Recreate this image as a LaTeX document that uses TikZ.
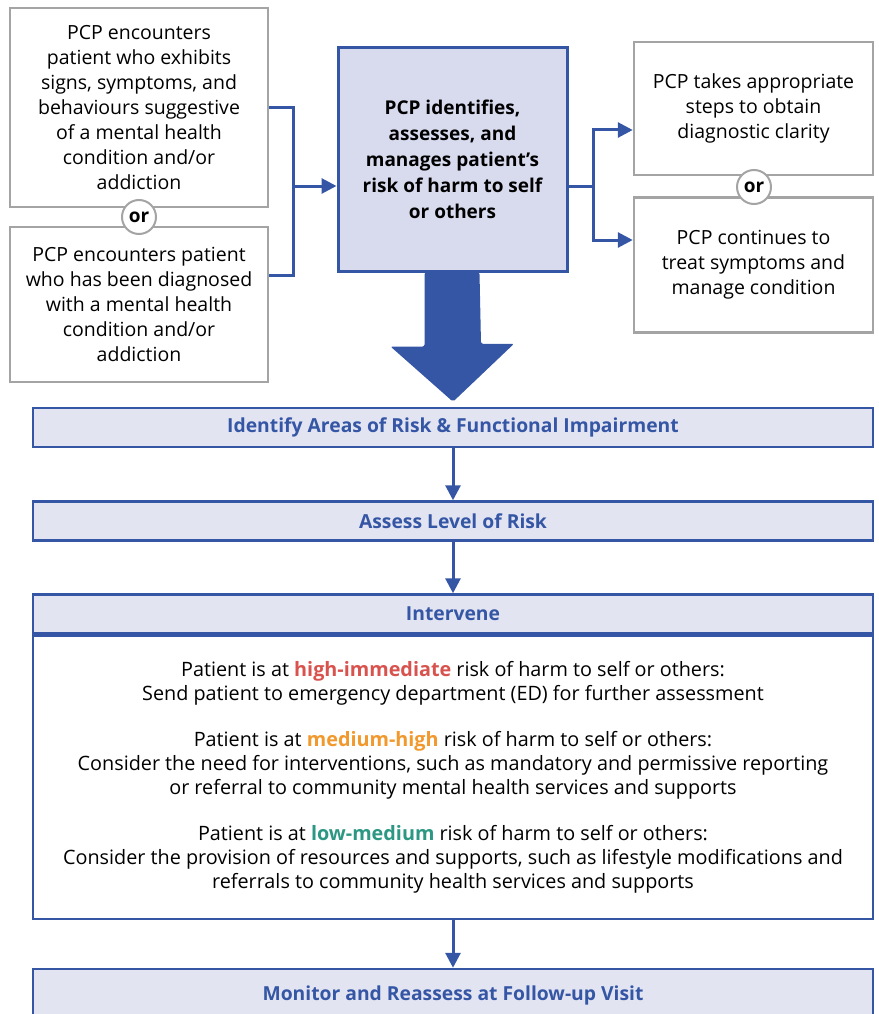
\documentclass[tikz,border=0pt]{standalone}
\usepackage{fontspec}
\setmainfont{Open Sans}
\usepackage{tikz}
\usetikzlibrary{arrows.meta,calc,positioning}
\definecolor{pcpblue}{HTML}{3456A5}
\definecolor{mainfill}{HTML}{D8DBEE}
\definecolor{barfill}{HTML}{E2E4F2}
\definecolor{boxgrey}{HTML}{A4A4A4}
\definecolor{riskred}{HTML}{D9534E}
\definecolor{riskorange}{HTML}{F2992E}
\definecolor{riskteal}{HTML}{2C9884}
\tikzset{>=Latex}
\tikzset{
  greybox/.style={draw=boxgrey, line width=2.5pt, fill=white, align=center, inner sep=4pt,
    font=\fontsize{19.5}{25}\selectfont},
  mainbox/.style={draw=pcpblue, line width=3pt, fill=mainfill, align=center, inner sep=4pt,
    font=\fontsize{19}{26}\selectfont\bfseries},
  bar/.style={draw=pcpblue, line width=2.5pt, fill=barfill, align=center,
    minimum width=840, minimum height=39, text=pcpblue, font=\fontsize{19.3}{22}\selectfont\bfseries},
  orcircle/.style={circle, draw=boxgrey, line width=2pt, fill=white, minimum size=34, inner sep=0pt,
    font=\fontsize{19}{20}\selectfont\bfseries},
  arrow/.style={draw=pcpblue, line width=3pt, -{Triangle[length=15pt,width=15pt]}},
  link/.style={draw=pcpblue, line width=3pt},
}
\begin{document}
\begin{tikzpicture}[x=1pt,y=-1pt]
\useasboundingbox (0,0) rectangle (878,1014);

% left side
\node[greybox, minimum width=258, minimum height=199] (enc1) at (139,107.5)
  {PCP encounters\\patient who exhibits\\signs, symptoms, and\\behaviours suggestive\\of a mental health\\condition and/or\\addiction};
\node[greybox, minimum width=258, minimum height=155] (enc2) at (139,304.5)
  {PCP encounters patient\\who has been diagnosed\\with a mental health\\condition and/or\\addiction};
\node[orcircle] (orL) at (139,217) {or};

% centre
\node[mainbox, minimum width=229, minimum height=223] (manage) at (452.5,159.5)
  {PCP identifies,\\assesses, and\\manages patient’s\\risk of harm to self\\or others};

% right side
\node[greybox, minimum width=239, minimum height=133] (clarity) at (753.5,108.5)
  {PCP takes appropriate\\steps to obtain\\diagnostic clarity};
\node[greybox, minimum width=239, minimum height=135] (treat) at (753.5,265)
  {PCP continues to\\treat symptoms and\\manage condition};
\node[orcircle] (orR) at (754,187) {or};

\coordinate (joinL) at (293,186);
\coordinate (joinR) at (593,186);

\draw[link] (enc1.east) -| (joinL) |- ([yshift=29.5pt]enc2.east);
\draw[arrow] (joinL) -- (joinL -| manage.west);
\draw[link] (joinR -| manage.east) -- (joinR);
\draw[arrow] (joinR) |- ([yshift=-21.5pt]clarity.west);
\draw[arrow] (joinR) |- ([yshift=25pt]treat.west);

% steps
\node[bar] (areas) at (453,427.5) {Identify Areas of Risk \& Functional Impairment};
\node[bar] (assess) at (453,521) {Assess Level of Risk};
\node[bar] (intervene) at (453,614) {Intervene};
\node[draw=pcpblue, line width=2.5pt, fill=white, minimum width=840, minimum height=283,
  anchor=north, align=center, font=\fontsize{19.8}{24}\selectfont] (options) at (intervene.south)
  {Patient is at \textbf{\color{riskred}high-immediate} risk of harm to self or others:\\
   Send patient to emergency department (ED) for further assessment\\[22pt]
   Patient is at \textbf{\color{riskorange}medium-high} risk of harm to self or others:\\
   Consider the need for interventions, such as mandatory and permissive reporting\\
   or referral to community mental health services and supports\\[22pt]
   Patient is at \textbf{\color{riskteal}low-medium} risk of harm to self or others:\\
   Consider the provision of resources and supports, such as lifestyle modifications and\\
   referrals to community health services and supports};
\node[bar, minimum height=52] (monitor) at (453,995) {Monitor and Reassess at Follow-up Visit};

% big arrow into the steps
\fill[pcpblue, rounded corners=2pt] ([xshift=-28pt]manage.south) -- ++(0,74) -- ++(-34,0)
  -- ([yshift=5pt]areas.north) -- ++(61,-58) -- ++(-33,0) -- ([xshift=27pt]manage.south) -- cycle;

\draw[arrow] (areas) -- (assess);
\draw[arrow] (assess) -- (intervene);
\draw[arrow] (options) -- (monitor);
\end{tikzpicture}
\end{document}
